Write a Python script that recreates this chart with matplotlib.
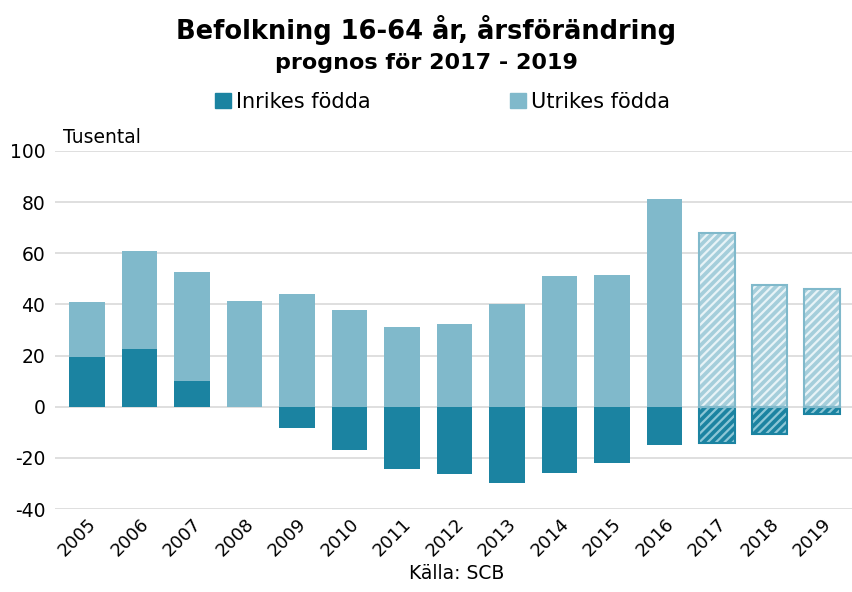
import matplotlib.pyplot as plt
import numpy as np
from matplotlib.patches import Patch

plt.rcParams['font.family'] = ['DejaVu Sans']
plt.rcParams['axes.unicode_minus'] = False

years = ["2005", "2006", "2007", "2008", "2009", "2010", "2011", "2012",
         "2013", "2014", "2015", "2016", "2017", "2018", "2019"]
inrikes = [19.5, 22.7, 10.2, 0.0, -8.3, -16.8, -24.2, -26.2,
           -29.7, -25.8, -21.9, -14.8, -14.0, -10.5, -2.7]
utrikes = [21.5, 38.3, 42.5, 41.2, 44.0, 38.0, 31.0, 32.4,
           40.2, 51.2, 51.6, 81.2, 68.0, 47.7, 46.0]
n_forecast = 3

c_in = "#1b83a1"
c_ut = "#80b9cb"
c_ut_hatch = "#a5cedb"

fig = plt.figure(figsize=(8.53, 5.92), dpi=100)
ax = fig.add_axes([0.0645, 0.140, 0.9355, 0.605])

x = np.arange(len(years))
inr = np.array(inrikes)
utr = np.array(utrikes)
bottom_ut = np.where(inr > 0, inr, 0)
w = 0.68
hist = slice(0, len(years) - n_forecast)
fc = slice(len(years) - n_forecast, len(years))

ax.bar(x[hist], inr[hist], w, color=c_in, zorder=3)
ax.bar(x[hist], utr[hist], w, bottom=bottom_ut[hist], color=c_ut, zorder=3)

# forecast years: hatched fill plus a separate coloured outline
plt.rcParams['hatch.linewidth'] = 1.6
ax.bar(x[fc], inr[fc], w, color=c_in, edgecolor="#8cc6d6", hatch="////",
       linewidth=0, zorder=3)
ax.bar(x[fc], utr[fc], w, bottom=bottom_ut[fc], color=c_ut_hatch,
       edgecolor="#e8f3f7", hatch="////", linewidth=0, zorder=3)
ax.bar(x[fc], inr[fc], w, fill=False, edgecolor=c_in, linewidth=1.5, zorder=4)
ax.bar(x[fc], utr[fc], w, bottom=bottom_ut[fc], fill=False,
       edgecolor=c_ut, linewidth=1.5, zorder=4)

ax.set_ylim(-40, 100)
ax.set_yticks(np.arange(-40, 101, 20))
ax.set_xlim(-0.61, 14.59)
ax.set_xticks(x)
ax.set_xticklabels(years, rotation=45, ha="right", rotation_mode="anchor",
                   fontsize=13)
ax.tick_params(axis="y", labelsize=13.5, length=0, pad=7)
ax.tick_params(axis="x", length=0, pad=4)
ax.grid(axis="y", color="#d9d9d9", linewidth=1.2, zorder=0)
for s in ax.spines.values():
    s.set_visible(False)

ax.text(0.01, 1.01, "Tusental", transform=ax.transAxes, fontsize=13.5,
        ha="left", va="bottom")

fig.text(0.5, 0.950, "Befolkning 16-64 år, årsförändring", ha="center",
         va="center", fontsize=18.5, fontweight="bold")
fig.text(0.5, 0.894, "prognos för 2017 - 2019", ha="center", va="center",
         fontsize=16, fontweight="bold")

handles = [Patch(color=c_in, label="Inrikes födda"),
           Patch(color=c_ut, label="Utrikes födda")]
fig.legend(handles=handles, loc="center", bbox_to_anchor=(0.519, 0.828),
           ncol=2, frameon=False, fontsize=15, columnspacing=6.7,
           handlelength=0.75, handleheight=0.75, handletextpad=0.25)

fig.text(0.535, 0.015, "Källa: SCB", ha="center", va="bottom", fontsize=13.5)

fig.savefig("out.png", dpi=100)
